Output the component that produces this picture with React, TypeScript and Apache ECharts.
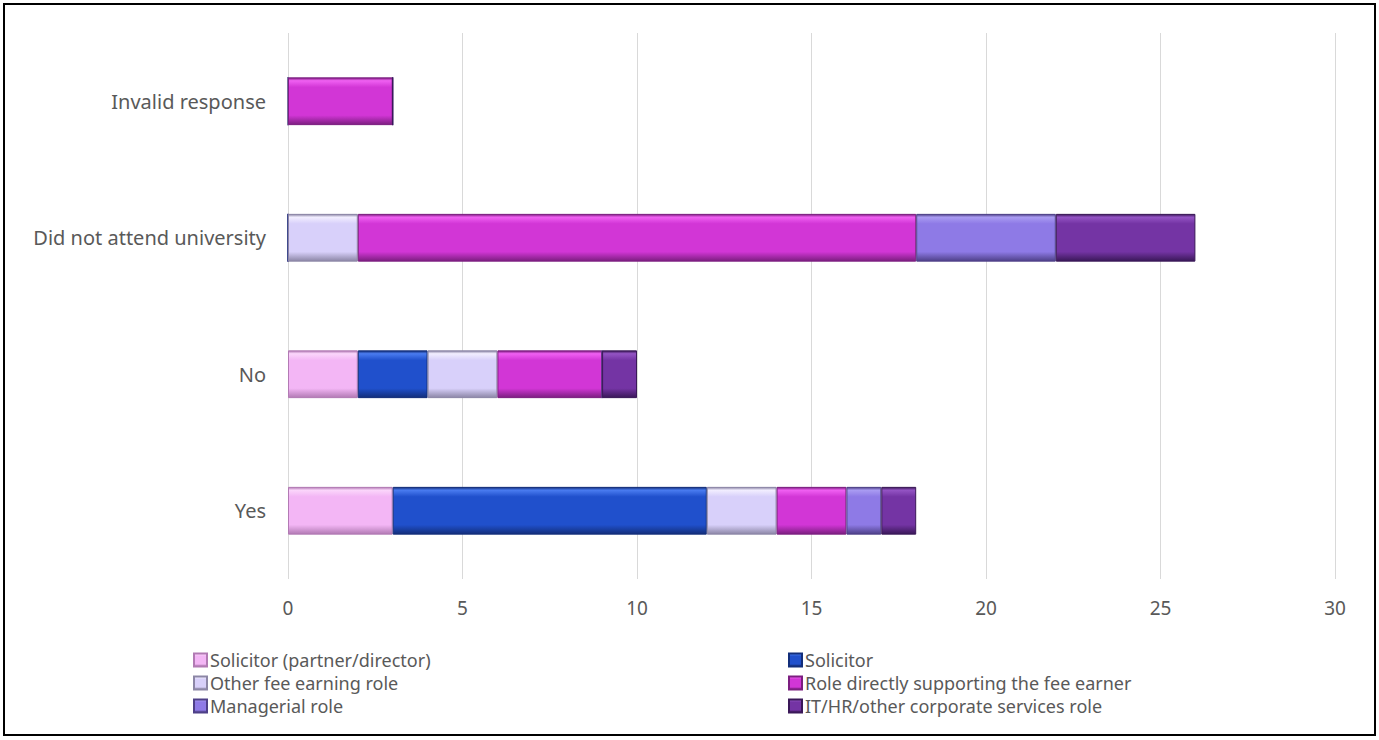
import React, { useEffect, useRef } from "react";
import * as echarts from "echarts";

const categories = ["Yes", "No", "Did not attend university", "Invalid response"];
const seriesNames = [
  "Solicitor (partner/director)",
  "Solicitor",
  "Other fee earning role",
  "Role directly supporting the fee earner",
  "Managerial role",
  "IT/HR/other corporate services role",
];
const partnerValues = [3, 2, 0, 0];
const solicitorValues = [9, 2, 0, 0];
const otherFeeValues = [2, 2, 2, 0];
const supportValues = [2, 3, 16, 3];
const managerialValues = [1, 0, 4, 0];
const itHrValues = [1, 1, 4, 0];

const colors = [
  ["#FBD6FB", "#F3B6F5", "#B27AB4"],
  ["#4A7CF0", "#2050CC", "#132E7A"],
  ["#F2EEFF", "#D8D0FA", "#8C86A6"],
  ["#F060F2", "#D236D6", "#7C1E80"],
  ["#AA9CF2", "#8E7AE6", "#4E4088"],
  ["#9454C4", "#7434A4", "#3A1858"],
];

function grad(c: string[]) {
  return new echarts.graphic.LinearGradient(0, 0, 0, 1, [
    { offset: 0, color: c[2] },
    { offset: 0.06, color: c[0] },
    { offset: 0.2, color: c[1] },
    { offset: 0.8, color: c[1] },
    { offset: 1, color: c[2] },
  ]);
}

export default function App() {
  const ref = useRef<HTMLDivElement>(null);
  useEffect(() => {
    if (!ref.current) return;
    const chart = echarts.init(ref.current, undefined, { renderer: "svg" });
    const data = [partnerValues, solicitorValues, otherFeeValues, supportValues, managerialValues, itHrValues];
    const font = "Noto Sans";
    const textColor = "#595959";
    const legendText = { color: textColor, fontSize: 18, fontFamily: font, padding: [0, 0, 0, -2] };
    chart.setOption({
      animation: false,
      textStyle: { fontFamily: font },
      grid: { left: 288, right: 44, top: 33, bottom: 161, containLabel: false },
      xAxis: {
        type: "value",
        min: 0,
        max: 30,
        interval: 5,
        axisLine: { show: false },
        axisTick: { show: false },
        splitLine: { lineStyle: { color: "#D9D9D9", width: 1 } },
        axisLabel: { color: textColor, fontSize: 19, margin: 19, fontFamily: font },
      },
      yAxis: {
        type: "category",
        data: categories,
        axisLine: { show: false },
        axisTick: { show: false },
        axisLabel: { color: textColor, fontSize: 20, margin: 22, fontFamily: font },
      },
      legend: [
        {
          orient: "vertical",
          left: 188,
          top: 646,
          icon: "rect",
          itemWidth: 13,
          itemHeight: 13,
          itemGap: 5,
          data: [seriesNames[0], seriesNames[2], seriesNames[4]],
          textStyle: legendText,
        },
        {
          orient: "vertical",
          left: 783,
          top: 646,
          icon: "rect",
          itemWidth: 13,
          itemHeight: 13,
          itemGap: 5,
          data: [seriesNames[1], seriesNames[3], seriesNames[5]],
          textStyle: legendText,
        },
      ],
      graphic: [
        {
          type: "rect",
          shape: { x: 4, y: 4, width: 1371, height: 731 },
          style: { fill: "none", stroke: "#000", lineWidth: 2 },
          silent: true,
        },
      ],
      series: seriesNames.map((name, i) => ({
        name,
        type: "bar",
        stack: "total",
        barWidth: "35%",
        data: data[i],
        itemStyle: { color: grad(colors[i]), borderColor: colors[i][2], borderWidth: 1 },
      })),
    });
    return () => chart.dispose();
  }, []);
  return (
    <div
      ref={ref}
      style={{ position: "absolute", left: 0, top: 0, width: 1379, height: 740, background: "#fff" }}
    />
  );
}
